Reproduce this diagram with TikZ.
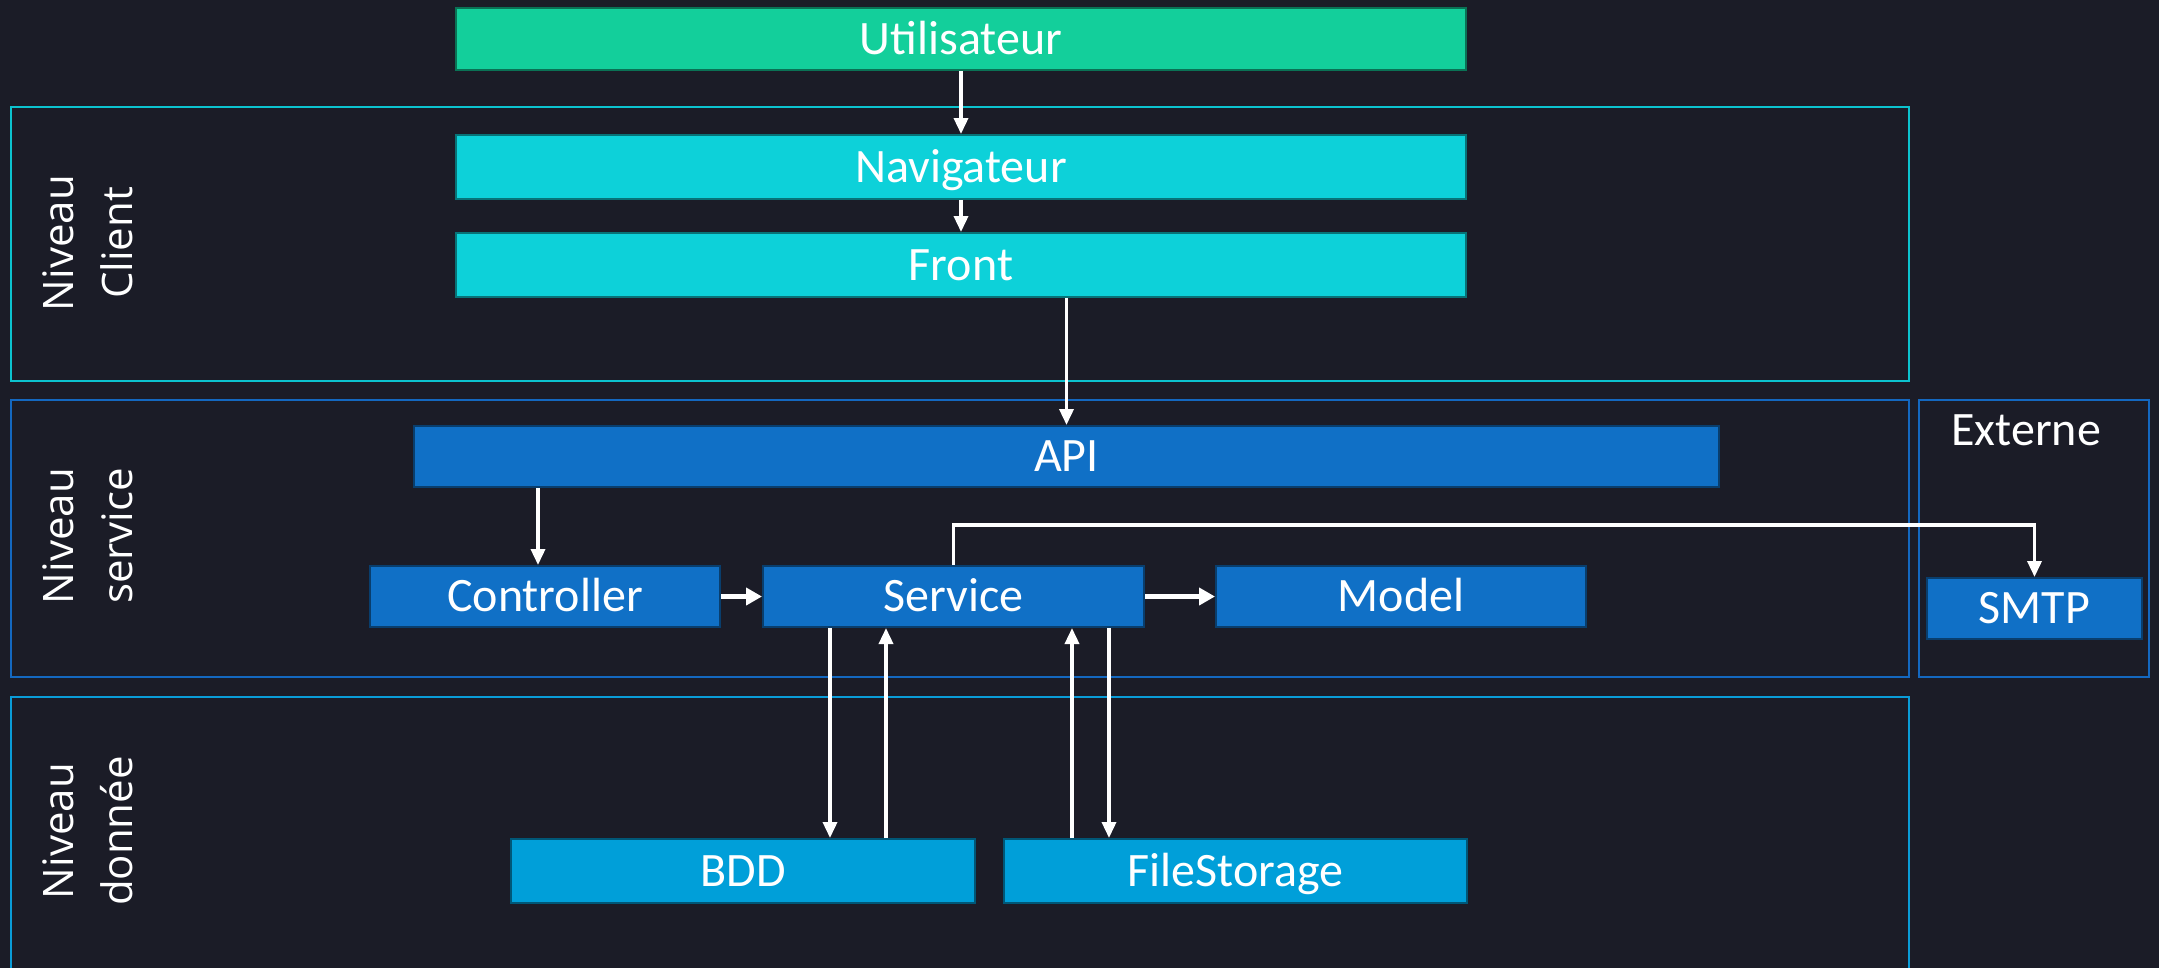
\documentclass[tikz,border=0pt]{standalone}
\usepackage{fontspec}
\setmainfont{Carlito}
\newfontfamily\lblfont{Open Sans}
\usetikzlibrary{arrows.meta}
\definecolor{bg}{HTML}{1B1C27}
\definecolor{cgreen}{HTML}{13CF9B}
\definecolor{ccyan}{HTML}{0DD1D9}
\definecolor{cblue}{HTML}{1070C6}
\definecolor{clight}{HTML}{009FD9}
\definecolor{fclient}{HTML}{0CC3CF}
\definecolor{fservice}{HTML}{1468C0}
\definecolor{fdata}{HTML}{0A9CD8}
\begin{document}
\begin{tikzpicture}[x=1pt,y=-1pt,
  box/.style={draw=#1!55!black, fill=#1, line width=2pt, inner sep=0pt, text=white,
    font=\fontsize{48}{57}\selectfont, text height=30.9pt, text depth=0pt},
  frame/.style={draw=#1, line width=2.5pt},
  lbl/.style={text=white, rotate=90, align=center, inner sep=0pt,
    font=\lblfont\fontsize{42}{59}\selectfont},
  arr/.style={draw=white, line width=3.5pt, -{Triangle[length=16pt,width=14pt]}},
  tarr/.style={draw=white, line width=5pt, -{Triangle[length=16pt,width=17pt]}}]
\useasboundingbox (0,0) rectangle (2159,967);
\fill[bg] (-5,-5) rectangle (2164,985);
% frames
\draw[frame=fclient] (11,107) rectangle (1909,381);
\draw[frame=fservice] (11,400) rectangle (1909,677);
\draw[frame=fservice] (1919,400) rectangle (2149,677);
\draw[frame=fdata] (11,985) -- (11,697) -- (1909,697) -- (1909,985);
% frame labels
\node[lbl] (lclient) at (88,243) {Niveau\\Client};
\node[lbl] (lservice) at (88,536) {Niveau\\service};
\node[lbl] (ldata) at (88,831) {Niveau\\donnée};
\node[text=white, inner sep=0pt, font=\fontsize{48}{57}\selectfont, text height=30.9pt, text depth=0pt] (lext) at (2026,430) {Externe};
% boxes
\node[box=cgreen, minimum width=1010pt, minimum height=62pt] (user) at (961,39) {Utilisateur};
\node[box=ccyan, minimum width=1010pt, minimum height=64pt] (nav) at (961,167) {Navigateur};
\node[box=ccyan, minimum width=1010pt, minimum height=64pt] (front) at (961,265) {Front};
\node[box=cblue, minimum width=1305pt, minimum height=61pt] (api) at (1066.5,456.5) {API};
\node[box=cblue, minimum width=350pt, minimum height=61pt] (ctrl) at (545,596.5) {Controller};
\node[box=cblue, minimum width=381pt, minimum height=61pt] (service) at (953.5,596.5) {Service};
\node[box=cblue, minimum width=370pt, minimum height=61pt] (model) at (1401,596.5) {Model};
\node[box=cblue, minimum width=215pt, minimum height=61pt] (smtp) at (2034.5,608.5) {SMTP};
\node[box=clight, minimum width=464pt, minimum height=64pt] (bdd) at (743,871) {BDD};
\node[box=clight, minimum width=463pt, minimum height=64pt] (fs) at (1235.5,871) {FileStorage};
% helper x positions
\coordinate (xa) at (538,0);
\coordinate (xb) at (830,0);
\coordinate (xc) at (886,0);
\coordinate (xd) at (1072,0);
\coordinate (xe) at (1109,0);
% connectors
\draw[arr] (user.south) -- (nav.north);
\draw[arr] (nav.south) -- (front.north);
\draw[arr] (front.south -| api.north) -- (api.north);
\draw[arr] (api.south -| xa) -- (ctrl.north -| xa);
\draw[tarr] (ctrl.east) -- (service.west);
\draw[tarr] (service.east) -- (model.west);
\draw[arr] (service.north) -- ++(0,-40) -| (smtp.north);
\draw[arr] (service.south -| xb) -- (bdd.north -| xb);
\draw[arr] (bdd.north -| xc) -- (service.south -| xc);
\draw[arr] (fs.north -| xd) -- (service.south -| xd);
\draw[arr] (service.south -| xe) -- (fs.north -| xe);
\end{tikzpicture}
\end{document}
